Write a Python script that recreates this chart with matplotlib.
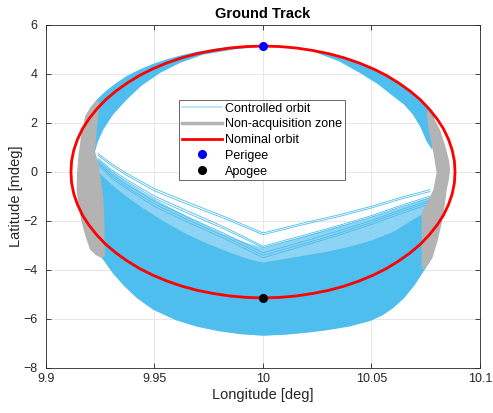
import matplotlib
matplotlib.use("Agg")
import matplotlib.pyplot as plt
from matplotlib.lines import Line2D

plt.rcParams['font.family'] = ['Liberation Sans', 'DejaVu Sans']

# ---------------- data ----------------
# nominal orbit (closed ground-track loop, starting at perigee, clockwise)
nominal_lon = [10.0000, 10.0077, 10.0154, 10.0229, 10.0303, 10.0374, 10.0443, 10.0508, 10.0569, 10.0626,
               10.0678, 10.0725, 10.0766, 10.0802, 10.0832, 10.0855, 10.0872, 10.0882, 10.0885,
               10.0882, 10.0872, 10.0855, 10.0832, 10.0802, 10.0766, 10.0725, 10.0678, 10.0626,
               10.0569, 10.0508, 10.0443, 10.0374, 10.0303, 10.0229, 10.0154, 10.0077, 10.0000,
               9.9923, 9.9846, 9.9771, 9.9697, 9.9626, 9.9557, 9.9492, 9.9431, 9.9374, 9.9322,
               9.9275, 9.9234, 9.9198, 9.9168, 9.9145, 9.9128, 9.9118, 9.9115, 9.9118, 9.9128,
               9.9145, 9.9168, 9.9198, 9.9234, 9.9275, 9.9322, 9.9374, 9.9431, 9.9492, 9.9557,
               9.9626, 9.9697, 9.9771, 9.9846, 9.9923, 10.0000]
nominal_lat = [5.14, 5.12, 5.06, 4.96, 4.83, 4.66, 4.45, 4.21, 3.94, 3.63,
               3.30, 2.95, 2.57, 2.17, 1.76, 1.33, 0.89, 0.45, 0.00,
               -0.45, -0.89, -1.33, -1.76, -2.17, -2.57, -2.95, -3.30, -3.63,
               -3.94, -4.21, -4.45, -4.66, -4.83, -4.96, -5.06, -5.12, -5.14,
               -5.12, -5.06, -4.96, -4.83, -4.66, -4.45, -4.21, -3.94, -3.63, -3.30,
               -2.95, -2.57, -2.17, -1.76, -1.33, -0.89, -0.45, 0.00, 0.45, 0.89,
               1.33, 1.76, 2.17, 2.57, 2.95, 3.30, 3.63, 3.94, 4.21, 4.45,
               4.66, 4.83, 4.96, 5.06, 5.12, 5.14]

perigee_lon, perigee_lat = [10.0], [5.16]
apogee_lon, apogee_lat = [10.0], [-5.14]

# controlled orbit: upper band (outer edge left->right, inner edge right->left)
upper_outer_lon = [9.9210, 9.9234, 9.9275, 9.9322, 9.9374, 9.9431, 9.9492, 9.9557, 9.9626, 9.9697,
                   9.9771, 9.9846, 9.9923, 10.0000, 10.0077, 10.0154, 10.0229, 10.0303, 10.0374,
                   10.0443, 10.0508, 10.0569, 10.0626, 10.0678, 10.0725, 10.0766, 10.0790]
upper_outer_lat = [2.65, 2.95, 3.30, 3.62, 3.93, 4.18, 4.41, 4.60, 4.77, 4.91,
                   5.02, 5.10, 5.13, 5.14, 5.11, 5.05, 4.95, 4.81, 4.64,
                   4.43, 4.19, 3.92, 3.61, 3.28, 2.93, 2.55, 2.30]
upper_inner_lon = [10.0780, 10.0754, 10.0724, 10.0690, 10.0650, 10.0600, 10.0530, 10.0447, 10.0350,
                   10.0215, 10.0100, 10.0000, 9.9880, 9.9724, 9.9620, 9.9525, 9.9440, 9.9372,
                   9.9310, 9.9264, 9.9240, 9.9226]
upper_inner_lat = [0.90, 1.25, 1.86, 2.35, 2.75, 3.09, 3.58, 4.04, 4.52,
                   4.97, 5.08, 5.11, 5.02, 4.79, 4.46, 4.04, 3.52, 2.95,
                   2.35, 1.73, 1.25, 0.84]

# controlled orbit: lower band, shared longitudes of the band's upper edges
lower_lon = [9.9230, 9.9264, 9.9300, 9.9370, 9.9450, 9.9550, 9.9650, 9.9750, 9.9850, 9.9930,
             10.0000, 10.0100, 10.0200, 10.0300, 10.0400, 10.0500, 10.0600, 10.0700, 10.0780]
# top of the moderately dense part
lower_mid_lat = [0.55, 0.30, 0.05, -0.40, -0.85, -1.35, -1.80, -2.25, -2.65, -2.90,
                 -3.10, -2.85, -2.60, -2.35, -2.10, -1.85, -1.55, -1.25, -1.00]
# top of the dense part
lower_top_lat = [0.10, -0.20, -0.50, -1.00, -1.50, -2.05, -2.55, -2.95, -3.30, -3.55,
                 -3.70, -3.55, -3.40, -3.25, -3.05, -2.80, -2.45, -1.90, -1.50]
# bottom edge (right->left)
lower_bot_lon = [10.0780, 10.0740, 10.0700, 10.0650, 10.0600, 10.0550, 10.0493, 10.0400, 10.0300,
                 10.0200, 10.0100, 10.0000, 9.9900, 9.9800, 9.9700, 9.9600, 9.9494, 9.9420,
                 9.9360, 9.9310, 9.9264, 9.9230]
lower_bot_lat = [-3.50, -4.05, -4.60, -5.15, -5.55, -5.85, -6.08, -6.30, -6.45,
                 -6.56, -6.64, -6.68, -6.62, -6.50, -6.32, -6.05, -5.62, -5.15,
                 -4.65, -4.15, -3.58, -3.25]

# controlled orbit: individual sparse lines at the top of the lower band
sparse_lon = [9.9240, 9.9300, 9.9370, 9.9500, 9.9650, 9.9820, 10.0000,
              10.0200, 10.0350, 10.0500, 10.0630, 10.0770]
sparse_lat = [
    [0.75, 0.35, -0.05, -0.68, -1.22, -1.81, -2.49, -2.05, -1.75, -1.40, -1.05, -0.72],
    [0.68, 0.27, -0.13, -0.77, -1.31, -1.89, -2.56, -2.12, -1.82, -1.47, -1.12, -0.80],
    [0.55, 0.10, -0.30, -0.98, -1.58, -2.24, -3.03, -2.55, -2.18, -1.78, -1.38, -0.98],
    [0.50, 0.03, -0.38, -1.07, -1.67, -2.32, -3.09, -2.62, -2.24, -1.84, -1.44, -1.05],
    [0.42, -0.08, -0.50, -1.20, -1.83, -2.50, -3.30, -2.80, -2.40, -1.98, -1.56, -1.15],
    [0.36, -0.16, -0.60, -1.31, -1.94, -2.61, -3.40, -2.90, -2.50, -2.06, -1.64, -1.22],
    [0.30, -0.24, -0.68, -1.41, -2.04, -2.71, -3.50, -2.98, -2.58, -2.14, -1.72, -1.30],
]

# non-acquisition zones (outer edge top->bottom, inner edge bottom->top)
nacq_left_lon = [9.9234, 9.9205, 9.9180, 9.9162, 9.9149, 9.9143, 9.9141, 9.9150, 9.9165, 9.9183,
                 9.9203, 9.9230, 9.9257,
                 9.9272, 9.9270, 9.9264, 9.9252, 9.9241, 9.9226, 9.9232, 9.9240, 9.9246]
nacq_left_lat = [2.95, 2.65, 2.27, 1.50, 0.64, -0.05, -0.72, -1.40, -2.08, -2.65,
                 -3.17, -3.40, -3.51,
                 -3.44, -2.20, -1.00, -0.25, 0.37, 0.84, 1.50, 2.20, 2.82]
nacq_right_lon = [10.0760, 10.0790, 10.0816, 10.0842, 10.0858, 10.0862, 10.0857, 10.0847, 10.0837,
                  10.0824, 10.0805, 10.0783, 10.0760, 10.0737,
                  10.0731, 10.0731, 10.0731, 10.0760, 10.0785, 10.0800, 10.0785, 10.0765, 10.0754]
nacq_right_lat = [2.54, 2.15, 1.72, 1.00, 0.45, 0.09, -0.30, -0.72, -1.40,
                  -2.07, -2.80, -3.45, -3.78, -4.00,
                  -3.85, -2.80, -1.67, -1.20, -0.72, -0.04, 0.80, 1.65, 2.41]

xticks = [9.9, 9.95, 10.0, 10.05, 10.1]
xticklabels = ['9.9', '9.95', '10', '10.05', '10.1']
yticks = [6, 4, 2, 0, -2, -4, -6, -8]

# ---------------- styles ----------------
C_BLUE = '#4DBEEE'
C_BLUE_MID = '#8DD3F3'
C_GRAY = '#B3B3B3'
C_AX = '#262626'

fig = plt.figure(figsize=(4.93, 4.13), dpi=100)
ax = fig.add_axes([0.0933, 0.109, 0.8803, 0.8305])

# controlled orbit bands
ax.fill(upper_outer_lon + upper_inner_lon, upper_outer_lat + upper_inner_lat,
        color=C_BLUE, lw=0, zorder=2)
ax.fill(lower_lon + lower_bot_lon, lower_mid_lat + lower_bot_lat,
        color=C_BLUE_MID, lw=0, zorder=2)
ax.fill(lower_lon + lower_bot_lon, lower_top_lat + lower_bot_lat,
        color=C_BLUE, lw=0, zorder=2.1)
for lat in sparse_lat:
    ax.plot(sparse_lon, lat, color=C_BLUE, lw=0.6, zorder=2.5)

# non-acquisition zones
ax.fill(nacq_left_lon, nacq_left_lat, color=C_GRAY, lw=0, zorder=3)
ax.fill(nacq_right_lon, nacq_right_lat, color=C_GRAY, lw=0, zorder=3)

# nominal orbit
ax.plot(nominal_lon, nominal_lat, color='#FF0000', lw=2.0, zorder=4)
ax.plot(perigee_lon, perigee_lat, 'o', color='#0000FF', ms=5.5, zorder=5)
ax.plot(apogee_lon, apogee_lat, 'o', color='black', ms=5.5, zorder=5)

ax.set_xlim(9.9, 10.1)
ax.set_ylim(-8, 6)
ax.set_xticks(xticks)
ax.set_xticklabels(xticklabels)
ax.set_yticks(yticks)
ax.grid(True, color='#E3E3E3', lw=0.6, zorder=0)
ax.set_axisbelow(True)
for s in ax.spines.values():
    s.set_color(C_AX)
    s.set_linewidth(0.6)
ax.tick_params(direction='in', length=3.5, width=0.6, colors=C_AX, labelsize=9,
               top=True, right=True)
ax.tick_params(axis='x', pad=3.5)
ax.tick_params(axis='y', pad=6)
ax.set_xlabel('Longitude [deg]', fontsize=10.5, color=C_AX, labelpad=2)
ax.set_ylabel('Latitude [mdeg]', fontsize=10.5, color=C_AX, labelpad=0)
ax.set_title('Ground Track', fontsize=10.5, fontweight='bold', color='black', pad=5)

handles = [
    Line2D([], [], color=C_BLUE, lw=1.2, alpha=0.45),
    Line2D([], [], color=C_GRAY, lw=2.5),
    Line2D([], [], color='#FF0000', lw=2.0),
    Line2D([], [], color='#0000FF', marker='o', ls='none', ms=5.5),
    Line2D([], [], color='black', marker='o', ls='none', ms=5.5),
]
labels = ['Controlled orbit', 'Non-acquisition zone', 'Nominal orbit', 'Perigee', 'Apogee']
leg = ax.legend(handles, labels, loc='upper left', bbox_to_anchor=(0.3065, 0.781),
                borderaxespad=0, fontsize=9, frameon=True, fancybox=False,
                edgecolor='#4D4D4D', framealpha=1, handlelength=3.2, handletextpad=0.3,
                labelspacing=0.3, borderpad=0.2)
leg.get_frame().set_linewidth(0.6)
for t in leg.get_texts():
    t.set_color('black')

fig.savefig('out.png', dpi=100)
